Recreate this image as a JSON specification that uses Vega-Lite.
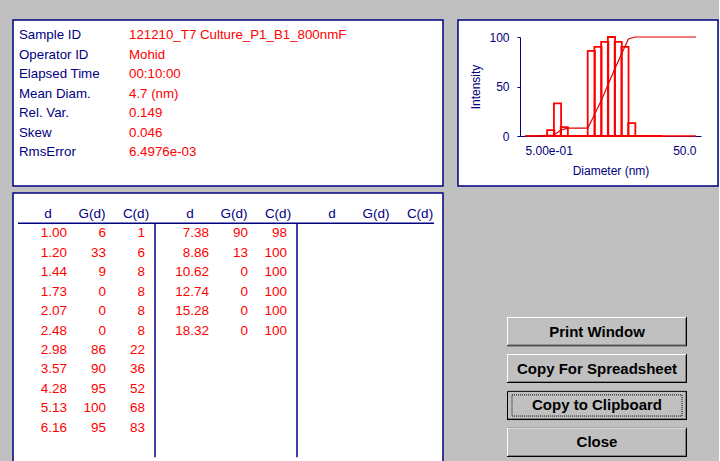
{
  "$schema": "https://vega.github.io/schema/vega-lite/v6.json",
  "background": "#c0c0c0",
  "padding": {"left": 12, "top": 19, "right": 0, "bottom": 0},
  "config": {
    "view": {"fill": "#ffffff", "stroke": "#000080", "strokeWidth": 1.5},
    "font": "Liberation Sans"
  },
  "datasets": {
    "info": [
      {"label": "Sample ID", "value": "121210_T7 Culture_P1_B1_800nmF"},
      {"label": "Operator ID", "value": "Mohid"},
      {"label": "Elapsed Time", "value": "00:10:00"},
      {"label": "Mean Diam.", "value": "4.7 (nm)"},
      {"label": "Rel. Var.", "value": "0.149"},
      {"label": "Skew", "value": "0.046"},
      {"label": "RmsError", "value": "6.4976e-03"}
    ],
    "sizes": [
      {"grp": 1, "row": 1, "d": 1.00, "G": 6, "C": 1},
      {"grp": 1, "row": 2, "d": 1.20, "G": 33, "C": 6},
      {"grp": 1, "row": 3, "d": 1.44, "G": 9, "C": 8},
      {"grp": 1, "row": 4, "d": 1.73, "G": 0, "C": 8},
      {"grp": 1, "row": 5, "d": 2.07, "G": 0, "C": 8},
      {"grp": 1, "row": 6, "d": 2.48, "G": 0, "C": 8},
      {"grp": 1, "row": 7, "d": 2.98, "G": 86, "C": 22},
      {"grp": 1, "row": 8, "d": 3.57, "G": 90, "C": 36},
      {"grp": 1, "row": 9, "d": 4.28, "G": 95, "C": 52},
      {"grp": 1, "row": 10, "d": 5.13, "G": 100, "C": 68},
      {"grp": 1, "row": 11, "d": 6.16, "G": 95, "C": 83},
      {"grp": 2, "row": 1, "d": 7.38, "G": 90, "C": 98},
      {"grp": 2, "row": 2, "d": 8.86, "G": 13, "C": 100},
      {"grp": 2, "row": 3, "d": 10.62, "G": 0, "C": 100},
      {"grp": 2, "row": 4, "d": 12.74, "G": 0, "C": 100},
      {"grp": 2, "row": 5, "d": 15.28, "G": 0, "C": 100},
      {"grp": 2, "row": 6, "d": 18.32, "G": 0, "C": 100}
    ],
    "cumulative": [
      {"d": 0.5, "C": 0},
      {"d": 1.095, "C": 1},
      {"d": 1.315, "C": 6},
      {"d": 1.577, "C": 8},
      {"d": 1.895, "C": 8},
      {"d": 2.268, "C": 8},
      {"d": 2.717, "C": 8},
      {"d": 3.264, "C": 22},
      {"d": 3.911, "C": 36},
      {"d": 4.688, "C": 52},
      {"d": 5.62, "C": 68},
      {"d": 6.748, "C": 83},
      {"d": 8.084, "C": 98},
      {"d": 9.706, "C": 100},
      {"d": 50, "C": 100}
    ],
    "headers": [
      {"grp": 1, "col": "d"}, {"grp": 1, "col": "G(d)"}, {"grp": 1, "col": "C(d)"},
      {"grp": 2, "col": "d"}, {"grp": 2, "col": "G(d)"}, {"grp": 2, "col": "C(d)"},
      {"grp": 3, "col": "d"}, {"grp": 3, "col": "G(d)"}, {"grp": 3, "col": "C(d)"}
    ],
    "buttons": [
      {"label": "Print Window", "focused": false},
      {"label": "Copy For Spreadsheet", "focused": false},
      {"label": "Copy to Clipboard", "focused": true},
      {"label": "Close", "focused": false}
    ]
  },
  "spacing": 5,
  "vconcat": [
    {
      "spacing": 13,
      "hconcat": [
        {
          "width": 430,
          "height": 166,
          "data": {"name": "info"},
          "transform": [{"fold": ["label", "value"], "as": ["kind", "txt"]}],
          "mark": {"type": "text", "align": "left", "baseline": "middle", "font": "Liberation Sans", "fontSize": 13.3},
          "encoding": {
            "x": {"field": "kind", "type": "nominal", "scale": {"type": "point", "domain": ["label", "value"], "range": [6, 116], "padding": 0}, "axis": null},
            "y": {"field": "label", "type": "nominal", "sort": null, "scale": {"type": "point", "range": [15, 132], "padding": 0}, "axis": null},
            "text": {"field": "txt"},
            "color": {"field": "kind", "type": "nominal", "scale": {"domain": ["label", "value"], "range": ["#000080", "#ff0000"]}, "legend": null}
          }
        },
        {
          "width": 260,
          "height": 166,
          "layer": [
            {
              "data": {"values": [{}]},
              "mark": {"type": "rule", "color": "#ff0000", "strokeWidth": 1.5},
              "encoding": {
                "x": {"datum": 0.5, "type": "quantitative"},
                "x2": {"datum": 50},
                "y": {"datum": 0, "type": "quantitative"}
              }
            },
            {
              "data": {"name": "sizes"},
              "mark": {"type": "bar", "filled": false, "stroke": "#ff0000", "strokeWidth": 1.8, "width": 7.17},
              "encoding": {
                "x": {
                  "field": "d", "type": "quantitative",
                  "scale": {"type": "log", "domain": [0.5, 50], "range": [62, 243], "nice": false},
                  "axis": {
                    "title": "Diameter (nm)", "values": [0.5, 50], "ticks": false, "grid": false,
                    "labelAlign": {"condition": {"test": "datum.value < 1", "value": "left"}, "value": "right"},
                    "labelExpr": "datum.value < 1 ? replace(format(datum.value, '.2e'), 'e-', 'e-0') : format(datum.value, '.1f')",
                    "offset": -50, "domainColor": "#000080", "labelColor": "#000080", "titleColor": "#000080",
                    "labelFont": "Liberation Sans", "titleFont": "Liberation Sans",
                    "labelFontSize": 12, "titleFontSize": 12, "titleFontWeight": "normal", "labelPadding": 9, "titlePadding": 9
                  }
                },
                "y": {
                  "field": "G", "type": "quantitative",
                  "scale": {"domain": [0, 100], "range": [116, 17], "nice": false, "zero": false},
                  "axis": {
                    "title": "Intensity", "values": [0, 50, 100], "tickSize": 3, "labelPadding": 8, "grid": false,
                    "offset": -62, "domainColor": "#000080", "tickColor": "#000080", "labelColor": "#000080", "titleColor": "#000080",
                    "labelFont": "Liberation Sans", "titleFont": "Liberation Sans",
                    "labelFontSize": 12, "titleFontSize": 12, "titleFontWeight": "normal", "titlePadding": 6
                  }
                },
                "y2": {"datum": 0}
              }
            },
            {
              "data": {"name": "cumulative"},
              "mark": {"type": "line", "color": "#e00000", "strokeWidth": 1.2},
              "encoding": {
                "x": {"field": "d", "type": "quantitative", "axis": {"title": "Diameter (nm)"}},
                "y": {"field": "C", "type": "quantitative", "axis": {"title": "Intensity"}}
              }
            }
          ]
        }
      ]
    },
    {
      "spacing": 63,
      "hconcat": [
        {
          "width": 430,
          "height": 269,
          "resolve": {"scale": {"xOffset": "independent"}},
          "layer": [
            {
              "data": {"name": "headers"},
              "mark": {"type": "text", "align": "center", "baseline": "middle", "fontSize": 13.5, "color": "#000080"},
              "encoding": {
                "x": {"field": "grp", "type": "ordinal", "scale": {"type": "band", "domain": [1, 2, 3], "range": [0, 426], "paddingInner": 0, "paddingOuter": 0}, "axis": null},
                "xOffset": {"field": "col", "type": "nominal", "scale": {"type": "point", "domain": ["d", "G(d)", "C(d)"], "range": [35, 123], "padding": 0}},
                "y": {"datum": 0, "type": "quantitative", "scale": {"domain": [0, 12], "range": [21, 254], "nice": false, "zero": false}, "axis": null},
                "text": {"field": "col"}
              }
            },
            {
              "data": {"name": "sizes"},
              "mark": {"type": "text", "align": "right", "baseline": "middle", "fontSize": 13.5, "color": "#ff0000"},
              "encoding": {
                "x": {"field": "grp", "type": "ordinal"},
                "xOffset": {"datum": "d", "type": "nominal", "scale": {"type": "point", "domain": ["d", "G(d)", "C(d)"], "range": [54, 132], "padding": 0}},
                "y": {"field": "row", "type": "quantitative"},
                "text": {"field": "d", "type": "quantitative", "format": ".2f"}
              }
            },
            {
              "data": {"name": "sizes"},
              "mark": {"type": "text", "align": "right", "baseline": "middle", "fontSize": 13.5, "color": "#ff0000"},
              "encoding": {
                "x": {"field": "grp", "type": "ordinal"},
                "xOffset": {"datum": "G(d)", "type": "nominal", "scale": {"type": "point", "domain": ["d", "G(d)", "C(d)"], "range": [54, 132], "padding": 0}},
                "y": {"field": "row", "type": "quantitative"},
                "text": {"field": "G", "type": "quantitative"}
              }
            },
            {
              "data": {"name": "sizes"},
              "mark": {"type": "text", "align": "right", "baseline": "middle", "fontSize": 13.5, "color": "#ff0000"},
              "encoding": {
                "x": {"field": "grp", "type": "ordinal"},
                "xOffset": {"datum": "C(d)", "type": "nominal", "scale": {"type": "point", "domain": ["d", "G(d)", "C(d)"], "range": [54, 132], "padding": 0}},
                "y": {"field": "row", "type": "quantitative"},
                "text": {"field": "C", "type": "quantitative"}
              }
            },
            {
              "data": {"values": [{"grp": 2}, {"grp": 3}]},
              "mark": {"type": "rule", "color": "#000080", "strokeWidth": 1.5},
              "encoding": {
                "x": {"field": "grp", "type": "ordinal", "bandPosition": 0},
                "y": {"datum": 0.47, "type": "quantitative"},
                "y2": {"datum": 12.53}
              }
            },
            {
              "data": {"values": [{}]},
              "mark": {"type": "rule", "color": "#000080", "strokeWidth": 1.5},
              "encoding": {
                "x": {"datum": 1, "type": "ordinal", "bandPosition": 0.035},
                "x2": {"datum": 3, "bandPosition": 0.965},
                "y": {"datum": 0.47, "type": "quantitative"}
              }
            }
          ]
        },
        {
          "width": 180,
          "height": 269,
          "view": {"fill": null, "stroke": null},
          "data": {"name": "buttons"},
          "encoding": {
            "x": {"datum": 0, "type": "quantitative", "scale": {"domain": [0, 1], "nice": false, "zero": false}, "axis": null},
            "x2": {"datum": 1},
            "y": {"field": "label", "type": "nominal", "sort": null, "bandPosition": 0, "scale": {"type": "band", "range": [124, 264], "paddingInner": 0.21, "paddingOuter": 0}, "axis": null},
            "y2": {"field": "label", "bandPosition": 1}
          },
          "layer": [
            {"mark": {"type": "rect", "fill": "#000000"}},
            {"mark": {"type": "rect", "fill": "#ffffff", "x2Offset": -1, "y2Offset": -1}},
            {"mark": {"type": "rect", "fill": "#808080", "xOffset": 1, "yOffset": 1, "x2Offset": -1, "y2Offset": -1}},
            {"mark": {"type": "rect", "fill": "#c0c0c0", "xOffset": 1, "yOffset": 1, "x2Offset": -2, "y2Offset": -2}},
            {
              "transform": [{"filter": "datum.focused"}],
              "mark": {"type": "rect", "fill": "transparent", "stroke": "#000000", "strokeWidth": 1, "xOffset": 0.5, "yOffset": 0.5, "x2Offset": -0.5, "y2Offset": -0.5}
            },
            {
              "transform": [{"filter": "datum.focused"}],
              "mark": {"type": "rect", "fill": "transparent", "stroke": "#000000", "strokeWidth": 1, "strokeDash": [1, 1], "xOffset": 5, "yOffset": 4, "x2Offset": -5, "y2Offset": -4}
            },
            {
              "mark": {"type": "text", "font": "Liberation Sans", "fontSize": 15, "fontWeight": "bold", "color": "#000000", "baseline": "middle"},
              "encoding": {
                "x": {"datum": 0.5, "type": "quantitative"},
                "x2": null,
                "y": {"field": "label", "type": "nominal", "sort": null, "bandPosition": 0.5},
                "y2": null,
                "text": {"field": "label"}
              }
            }
          ]
        }
      ]
    }
  ]
}
